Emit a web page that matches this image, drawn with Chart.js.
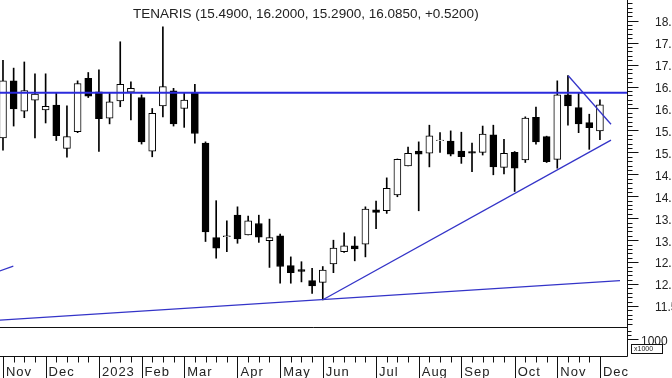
<!DOCTYPE html>
<html>
<head>
<title>Tenaris weekly</title>
<script src="https://cdn.jsdelivr.net/npm/chart.js"></script>
<style>
  body { margin: 0; background: #fff; }
</style>
</head>
<body>
<canvas id="priceChart" width="672" height="378"></canvas>

<script>
// weekly candles, week 0 = first week of Nov 2022, last one = first week of Dec 2023
var weeks  = [0,1,2,3,4,5,6,7,8,9,10,11,12,13,14,15,16,17,18,19,20,21,22,23,24,25,26,27,28,
              29,30,31,32,33,34,35,36,37,38,39,40,41,42,43,44,45,46,47,48,49,50,51,52,53,54,55,56];
var opens  = [15.33,16.63,15.94,16.19,15.97,16.08,15.09,15.47,16.69,16.38,15.78,16.17,16.37,16.25,15.03,
              16.06,16.40,16.00,16.35,15.21,13.06,13.08,13.57,13.12,13.38,12.99,13.10,12.42,12.33,12.08,
              12.04,12.46,12.74,12.87,12.91,13.69,13.67,14.03,14.69,15.03,14.98,15.27,15.26,15.03,15.02,
              15.00,15.40,14.66,15.00,14.83,15.80,15.36,14.84,16.31,16.02,15.68,15.49];
var highs  = [17.10,16.92,17.06,16.79,16.79,16.35,16.06,16.63,16.82,16.88,16.35,17.52,16.61,16.31,16.00,
              17.86,16.46,16.35,16.55,15.24,13.90,13.44,13.76,13.55,13.57,13.48,13.14,12.62,12.51,12.36,
              12.40,13.00,13.17,13.08,13.76,13.89,14.42,14.85,15.12,15.24,15.62,15.45,15.49,15.46,15.21,
              15.60,15.62,15.30,15.02,15.81,16.03,15.37,16.63,16.75,16.35,15.87,16.20];
var lows   = [15.05,15.60,15.79,15.33,15.67,15.27,14.89,15.45,16.25,15.02,15.65,16.04,15.74,15.19,14.90,
              15.81,15.60,15.57,15.21,12.97,12.59,12.74,12.93,13.12,12.95,12.38,12.02,12.02,12.05,11.79,
              11.64,12.26,12.72,12.53,12.62,13.26,13.61,13.99,14.69,13.67,14.67,15.00,14.92,14.75,14.56,
              14.94,14.49,14.51,14.11,14.77,15.19,14.77,14.64,15.62,15.45,15.07,15.29];
var closes = [16.63,15.99,16.41,16.33,16.05,15.38,15.36,16.57,16.28,15.77,16.15,16.55,16.46,15.24,15.89,
              16.50,15.65,16.19,15.43,13.19,12.82,13.10,13.03,13.44,13.07,13.06,12.40,12.26,12.29,11.96,
              12.32,12.82,12.87,12.80,13.71,13.63,14.18,14.84,14.98,14.96,15.38,15.28,14.96,14.90,14.98,
              15.42,14.67,14.98,14.64,15.78,15.24,14.79,16.31,16.06,15.65,15.565,16.085];

var monthTicks  = [0, 4, 9, 13, 17, 22, 26, 30, 35, 39, 43, 48, 52, 56];
var monthLabels = ['Nov','Dec','2023','Feb','Mar','Apr','May','Jun','Jul','Aug','Sep','Oct','Nov','Dec'];
var priceTicks  = [11.5, 12.0, 12.5, 13.0, 13.5, 14.0, 14.5, 15.0, 15.5, 16.0, 16.5, 17.0, 17.5, 18.0];

// drawn lines, in (week, price)
var resistance  = [{x: -1, y: 16.36}, {x: 60, y: 16.36}];
var leftLine    = [{x: -0.3, y: 12.30}, {x: 0.97, y: 12.41}];
var baseLine    = [{x: -0.28, y: 11.18}, {x: 57.88, y: 12.077}];
var riseLine    = [{x: 30.05, y: 11.65}, {x: 57.04, y: 15.28}];
var fallLine    = [{x: 53.03, y: 16.747}, {x: 57.04, y: 15.64}];

var titleText = 'TENARIS (15.4900, 16.2000, 15.2900, 16.0850, +0.5200)';

var wickData = weeks.map(function (k, i) { return {x: k, y: [lows[i], highs[i]]}; });
var bodyData = weeks.map(function (k, i) { return {x: k, y: [opens[i], closes[i]]}; });
var bodyFill = weeks.map(function (k, i) { return closes[i] >= opens[i] ? '#ffffff' : '#000000'; });

function lineSet(pts, w, col) {
    return {
        type: 'line', data: pts, borderColor: col, borderWidth: w,
        pointRadius: 0, fill: false, order: 0
    };
}

var decor = {
    id: 'decor',
    afterDraw: function (chart) {
        var c = chart.ctx, xs = chart.scales.x, ys = chart.scales.y, a = chart.chartArea;
        var axisX = Math.round(a.right) + 0.5;
        var botY = 356.5;
        c.save();
        c.strokeStyle = '#111';
        c.lineWidth = 1;

        // panel separator + bottom line
        c.beginPath();
        c.moveTo(0, a.bottom - 0.5); c.lineTo(axisX, a.bottom - 0.5);
        c.moveTo(0, botY); c.lineTo(axisX, botY);
        c.moveTo(axisX, 0); c.lineTo(axisX, botY);
        c.stroke();

        // right price axis: minor every 0.1, major every 0.5
        c.beginPath();
        for (var v = 11.1; v < 18.5; v += 0.1) {
            var py = Math.round(ys.getPixelForValue(v)) + 0.5;
            c.moveTo(axisX, py); c.lineTo(axisX + 5, py);
        }
        priceTicks.forEach(function (t) {
            var py = Math.round(ys.getPixelForValue(t)) + 0.5;
            c.moveTo(axisX, py); c.lineTo(axisX + 11, py);
        });
        // volume panel ticks
        c.moveTo(axisX, 331.5); c.lineTo(axisX + 4, 331.5);
        c.moveTo(axisX, 335.5); c.lineTo(axisX + 4, 335.5);
        c.moveTo(axisX, 339.5); c.lineTo(axisX + 11, 339.5);
        c.stroke();

        c.fillStyle = '#222';
        c.font = '12px "Liberation Sans", Arial, sans-serif';
        c.textAlign = 'left';
        c.textBaseline = 'middle';
        priceTicks.forEach(function (t) {
            c.fillText(t.toFixed(2), 655, ys.getPixelForValue(t) + 2);
        });
        c.fillText('1000', 641, 342);

        // x1000 box
        c.strokeRect(631.5, 344.5, 31, 9);
        c.font = '7px "Liberation Sans", Arial, sans-serif';
        c.fillText('x1000', 634, 349.5);

        // bottom week / month ticks
        c.beginPath();
        weeks.forEach(function (k) {
            var px = Math.round(xs.getPixelForValue(k)) + 0.5;
            c.moveTo(px, botY); c.lineTo(px, botY + 6);
        });
        monthTicks.forEach(function (k) {
            var px = Math.round(xs.getPixelForValue(k)) + 0.5;
            c.moveTo(px, botY); c.lineTo(px, 378);
        });
        c.stroke();

        c.font = '13px "Liberation Sans", Arial, sans-serif';
        c.letterSpacing = '1px';
        monthTicks.forEach(function (k, i) {
            c.fillText(monthLabels[i], xs.getPixelForValue(k) + 3, 372);
        });
        c.letterSpacing = '0px';

        // title
        c.fillStyle = '#222';
        c.font = '13.5px "Liberation Sans", Arial, sans-serif';
        c.fillText(titleText, 133, 14);
        c.restore();
    }
};

var ctx = document.getElementById('priceChart').getContext('2d');
var priceChart = new Chart(ctx, {
    type: 'bar',
    data: {
        datasets: [
            lineSet(resistance, 2, '#2b2bdc'),
            lineSet(leftLine, 1.3, '#3434c8'),
            lineSet(baseLine, 1.3, '#3434c8'),
            lineSet(riseLine, 1.3, '#3434c8'),
            lineSet(fallLine, 1.3, '#3434c8'),
            {
                label: 'body', data: bodyData, backgroundColor: bodyFill,
                borderColor: '#000', borderWidth: 1, borderSkipped: false,
                barThickness: 7, grouped: false, order: 1
            },
            {
                label: 'wick', data: wickData, backgroundColor: '#000',
                borderWidth: 0, barThickness: 1, grouped: false, order: 2
            }
        ]
    },
    options: {
        responsive: false,
        animation: false,
        devicePixelRatio: 1,
        layout: { padding: { left: 0, right: 45, top: 0, bottom: 50 } },
        plugins: { legend: { display: false }, tooltip: { enabled: false } },
        scales: {
            x: { type: 'linear', display: false, offset: false, min: -0.28, max: 58.54 },
            y: { display: false, min: 11.0, max: 18.4715 }
        }
    },
    plugins: [decor]
});
</script>
</body>
</html>
